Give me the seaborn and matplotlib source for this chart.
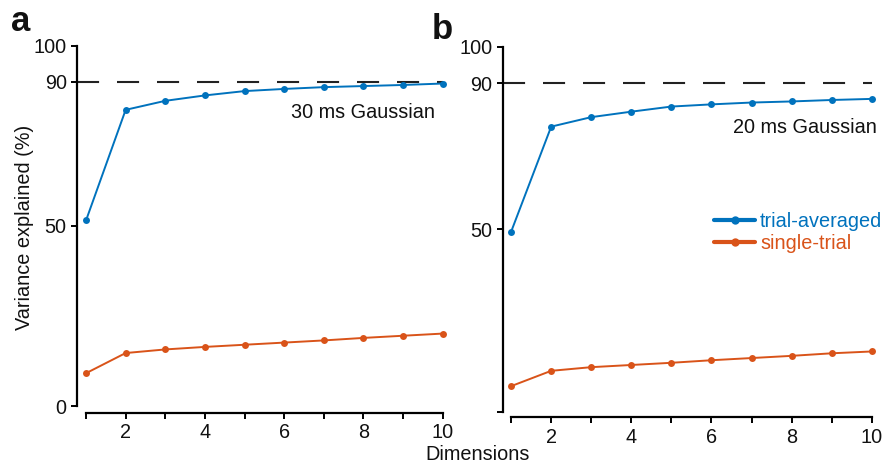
import numpy as np
import pandas as pd
import matplotlib
matplotlib.use("Agg")
import matplotlib.pyplot as plt
import seaborn as sns

sns.set_theme(style="ticks")
plt.rcParams["font.family"] = ["Liberation Sans", "DejaVu Sans"]

# Cumulative variance explained by the leading dimensions
dimensions = [1, 2, 3, 4, 5, 6, 7, 8, 9, 10]
avg_30ms = [51.5, 82.2, 84.7, 86.2, 87.4, 88.0, 88.5, 88.8, 89.1, 89.5]
single_30ms = [9.1, 14.7, 15.7, 16.4, 17.0, 17.6, 18.2, 18.9, 19.5, 20.1]
avg_20ms = [49.3, 78.1, 80.7, 82.2, 83.6, 84.2, 84.7, 85.0, 85.4, 85.7]
single_20ms = [7.0, 11.2, 12.2, 12.8, 13.4, 14.1, 14.7, 15.3, 16.0, 16.5]

series_names = ["trial-averaged", "single-trial"]
series_colors = ["#0072BD", "#D95319"]
panel_letters = ["a", "b"]
kernel_labels = ["30 ms Gaussian", "20 ms Gaussian"]
threshold = 90
y_ticks = [0, 50, 90, 100]
y_ticklabels = [["0", "50", "90", "100"], ["", "50", "90", "100"]]
x_ticklabels = [str(d) if d % 2 == 0 else "" for d in dimensions]

W, H = 886, 466
fig = plt.figure(figsize=(W / 100, H / 100), dpi=100)


def px_rect(left, right, bottom, top):
    return [left / W, 1 - bottom / H, (right - left) / W, (bottom - top) / H]


ax_a = fig.add_axes(px_rect(77.3, 442.7, 406.0, 45.7))
ax_b = fig.add_axes(px_rect(502.7, 871.7, 411.7, 46.7))

panels = [
    (ax_a, avg_30ms, single_30ms, 0.78, 5),
    (ax_b, avg_20ms, single_20ms, 0.79, 4),
]

FS = 14.3
TXT = "#111111"
for i, (ax, avg, single, xmin, offset) in enumerate(panels):
    ax.set_facecolor("none")
    ax.plot([xmin, 10], [threshold, threshold], color="#222222", lw=1.5,
            dashes=(10.6, 8.6), zorder=1, clip_on=False)
    df = pd.DataFrame({
        "Dimensions": dimensions * 2,
        "Variance": avg + single,
        "Type": [series_names[0]] * 10 + [series_names[1]] * 10,
    })
    sns.lineplot(data=df, x="Dimensions", y="Variance", hue="Type",
                 palette=dict(zip(series_names, series_colors)),
                 marker="o", markersize=5, markeredgewidth=0, linewidth=1.4,
                 ax=ax, legend=False, clip_on=False, zorder=3)
    for side in ("top", "right"):
        ax.spines[side].set_visible(False)
    ax.spines["bottom"].set_position(("outward", offset))
    ax.spines["left"].set_bounds(0, 100)
    ax.spines["bottom"].set_bounds(1, 10)
    for side in ("left", "bottom"):
        ax.spines[side].set_linewidth(1.6)
        ax.spines[side].set_color("black")
    ax.set_xlim(xmin, 10)
    ax.set_ylim(0, 100)
    ax.set_xticks(dimensions)
    ax.set_xticklabels(x_ticklabels)
    ax.set_yticks(y_ticks)
    ax.set_yticklabels(y_ticklabels[i])
    ax.set_xlabel("")
    ax.set_ylabel("")
    ax.tick_params(axis="both", direction="out", length=4.2, width=1.4,
                   colors="black", pad=3.4, labelcolor=TXT, labelsize=FS)

ax_a.text(9.81, 81.4, kernel_labels[0], ha="right", va="center",
          fontsize=FS, color=TXT)
ax_b.text(10.14, 77.8, kernel_labels[1], ha="right", va="center",
          fontsize=FS, color=TXT)

# Legend on the right panel
handles = [
    plt.Line2D([], [], color=c, lw=3.0, marker="o", markersize=6,
               markeredgewidth=0)
    for c in series_colors
]
leg = ax_b.legend(handles, series_names, loc="center left",
                  bbox_to_anchor=(0.573, 0.491), frameon=False,
                  fontsize=FS, handlelength=2.06, handletextpad=0.25,
                  labelspacing=0.12, borderpad=0, borderaxespad=0)
for txt, c in zip(leg.get_texts(), series_colors):
    txt.set_color(c)

for letter, (x, y) in zip(panel_letters, [(10.5, 30.7), (432, 39.3)]):
    fig.text(x / W, 1 - y / H, letter, fontsize=25, fontweight="bold",
             ha="left", va="baseline", color=TXT)

fig.text(25 / W, 1 - 227 / H, "Variance explained (%)", rotation=90,
         ha="center", va="center", fontsize=FS, color=TXT)
fig.text(478 / W, 1 - 455 / H, "Dimensions", ha="center", va="center",
         fontsize=FS, color=TXT)

fig.savefig("out.png", dpi=100)
